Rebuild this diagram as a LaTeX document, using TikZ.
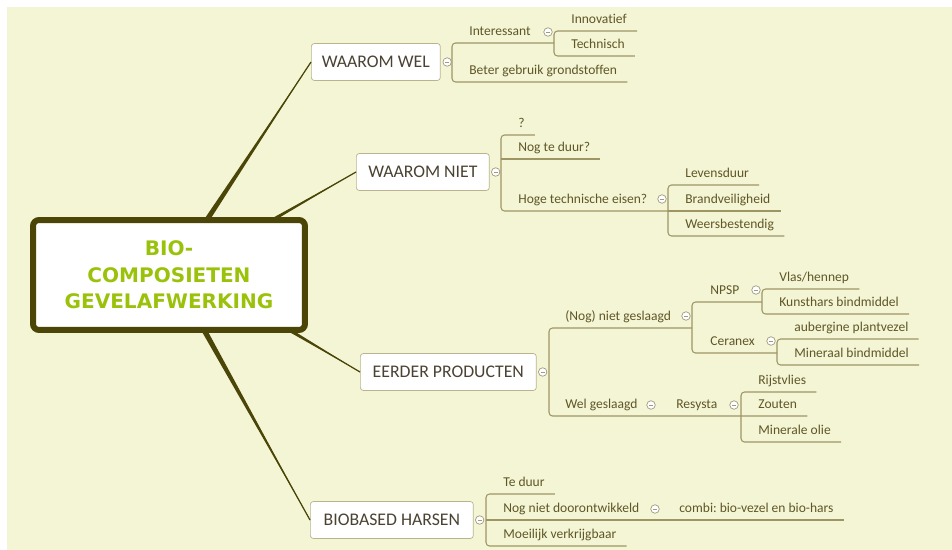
\documentclass[tikz,border=0pt]{standalone}
\usepackage{fontspec}
\setmainfont{Carlito}[Ligatures=NoCommon]
\newfontfamily\titlefont{DejaVu Sans}
\usetikzlibrary{calc}
\frenchspacing

\definecolor{bgc}{HTML}{F3F5D4}
\definecolor{trunkc}{HTML}{4B4608}
\definecolor{titlec}{HTML}{9BC20A}
\definecolor{boxc}{HTML}{B9B48E}
\definecolor{branchc}{HTML}{4A4232}
\definecolor{leafc}{HTML}{5F5628}
\definecolor{treec}{HTML}{9D9564}
\definecolor{knobc}{HTML}{9F9A80}

\tikzset{
	root/.style={draw=trunkc, line width=0.12cm, fill=white, rounded corners=0.12cm, text=titlec, font=\titlefont\bfseries\fontsize{11.4}{15}\selectfont, align=center, minimum width=5.44cm, minimum height=2.2cm},
	branch/.style={draw=boxc, fill=white, rounded corners=0.06cm, text=branchc, font=\fontsize{10.1}{12}\selectfont, minimum height=0.74cm, inner xsep=0cm, anchor=west},
	leaf/.style={anchor=south west, inner xsep=0.2cm, inner ysep=0pt, text depth=0.15cm, text=leafc, font=\fontsize{7.7}{9}\selectfont},
	knob/.style={circle, draw=knobc, fill=white, inner sep=0pt, minimum size=0.17cm, line width=0.4pt, path picture={\draw[knobc, line width=0.3pt] ([xshift=-1.2pt]path picture bounding box.center) -- ([xshift=1.2pt]path picture bounding box.center);}},
	tree/.style={draw=treec, line width=0.6pt, rounded corners=2pt},
	trunk/.style={fill=trunkc}
}

\begin{document}
\begin{tikzpicture}[x=0.02cm, y=-0.02cm]
			\useasboundingbox (0,0) rectangle (952,550);
			\fill[bgc] (7,7) rectangle (952,550);

			\node[root] (root) at (169,275) {BIO-\\COMPOSIETEN\\GEVELAFWERKING};
			\node[branch, minimum width=2.58cm] (wel) at (311,62) {WAAROM WEL};
			\node[branch, minimum width=2.66cm] (niet) at (356,172) {WAAROM NIET};
			\node[branch, minimum width=3.52cm] (eerder) at (360,372) {EERDER PRODUCTEN};
			\node[branch, minimum width=3.26cm] (harsen) at (310,520) {BIOBASED HARSEN};

			\coordinate (r1) at ($(root.north west)!0.643!(root.north east)$);
			\coordinate (r2) at ($(root.north west)!0.89!(root.north east)$);
			\coordinate (r3) at ($(root.south west)!0.95!(root.south east)$);
			\coordinate (r4) at ($(root.south west)!0.632!(root.south east)$);
			\fill[trunk] ($(r1)+(-3,0)$) -- (wel.west) -- ($(r1)+(3,0)$) -- cycle;
			\fill[trunk] ($(r2)+(-3,0)$) -- (niet.west) -- ($(r2)+(3,0)$) -- cycle;
			\fill[trunk] ($(r3)+(-3,0)$) -- (eerder.west) -- ($(r3)+(3,0)$) -- cycle;
			\fill[trunk] ($(r4)+(-3,0)$) -- (harsen.west) -- ($(r4)+(3,0)$) -- cycle;
			\draw[trunkc, line width=0.7pt] (r1) -- (wel.west);
			\draw[trunkc, line width=0.7pt] (r2) -- (niet.west);
			\draw[trunkc, line width=0.7pt] (r3) -- (eerder.west);
			\draw[trunkc, line width=0.7pt] (r4) -- (harsen.west);

			\coordinate (bwel) at (452,62);
			\coordinate (bint) at (554,32);
			\node[leaf] (int) at (459,43) {Interessant};
			\node[leaf] (inn) at (561,31) {Innovatief};
			\node[leaf] (tec) at (561,56) {Technisch};
			\node[leaf] (bet) at (459,82) {Beter gebruik grondstoffen};
			\draw[tree] (bint |- int.south) -- (bwel |- int.south) -- (bwel |- bet.south) -- (bet.south east);
			\draw[tree] (inn.south east) -- (bint |- inn.south) -- (bint |- tec.south) -- (tec.south east);

			\coordinate (bniet) at (501,172);
			\coordinate (bhoge) at (668,199);
			\node[leaf] (q) at (508,135) {?};
			\node[leaf] (duur) at (508,159) {Nog te duur?};
			\node[leaf] (hoge) at (508,211) {Hoge technische eisen?};
			\node[leaf] (lev) at (675,185) {Levensduur};
			\node[leaf] (brand) at (675,211) {Brandveiligheid};
			\node[leaf] (weer) at (675,236) {Weersbestendig};
			\draw[tree] (q.south east) -- (bniet |- q.south) -- (bniet |- hoge.south) -- (bhoge |- hoge.south);
			\draw[tree] (bniet |- duur.south) -- (duur.south east);
			\draw[tree] (lev.south east) -- (bhoge |- lev.south) -- (bhoge |- weer.south) -- (weer.south east);
			\draw[tree] (bhoge |- brand.south) -- (brand.south east);

			\coordinate (beer) at (549,372);
			\coordinate (bnog) at (692,316);
			\coordinate (bnpsp) at (762,290);
			\coordinate (bcer) at (777,341);
			\coordinate (bres) at (741,405);
			\node[leaf] (nog) at (555,328) {(Nog) niet geslaagd};
			\node[leaf] (npsp) at (700,302) {NPSP};
			\node[leaf] (vlas) at (769,289) {Vlas/hennep};
			\node[leaf] (kunst) at (769,314) {Kunsthars bindmiddel};
			\node[leaf] (cer) at (700,353) {Ceranex};
			\node[leaf] (aub) at (784,339) {aubergine plantvezel};
			\node[leaf] (mine) at (784,365) {Mineraal bindmiddel};
			\node[leaf] (gesl) at (555,416) {Wel geslaagd};
			\node[leaf] (res) at (666,416) {Resysta};
			\node[leaf] (rijst) at (748,392) {Rijstvlies};
			\node[leaf] (zout) at (748,416) {Zouten};
			\node[leaf] (olie) at (748,442) {Minerale olie};
			\draw[tree] (bnog |- nog.south) -- (beer |- nog.south) -- (beer |- gesl.south) -- (zout.south east);
			\draw[tree] (bnpsp |- npsp.south) -- (bnog |- npsp.south) -- (bnog |- cer.south) -- (bcer |- cer.south);
			\draw[tree] (vlas.south east) -- (bnpsp |- vlas.south) -- (bnpsp |- kunst.south) -- (kunst.south east);
			\draw[tree] (aub.south east) -- (bcer |- aub.south) -- (bcer |- mine.south) -- (mine.south east);
			\draw[tree] (rijst.south east) -- (bres |- rijst.south) -- (bres |- olie.south) -- (olie.south east);

			\coordinate (bbio) at (486,520);
			\node[leaf] (teduur) at (493,494) {Te duur};
			\node[leaf] (nond) at (493,520) {Nog niet doorontwikkeld};
			\node[leaf] (combi) at (669,520) {combi: bio-vezel en bio-hars};
			\node[leaf] (moei) at (493,546) {Moeilijk verkrijgbaar};
			\draw[tree] (teduur.south east) -- (bbio |- teduur.south) -- (bbio |- moei.south) -- (moei.south east);
			\draw[tree] (bbio |- nond.south) -- (combi.south east);

			\node[knob] (kwel) at ([xshift=0.13cm]wel.east) {};
			\node[knob] (kniet) at ([xshift=0.12cm]niet.east) {};
			\node[knob] (keerder) at ([xshift=0.12cm]eerder.east) {};
			\node[knob] (kharsen) at ([xshift=0.12cm]harsen.east) {};
			\node[knob] (kint) at (548,32) {};
			\node[knob] (khoge) at (662,199) {};
			\node[knob] (knog) at (686,316) {};
			\node[knob] (knpsp) at (756,290) {};
			\node[knob] (kcer) at (771,341) {};
			\node[knob] (kgesl) at (651,405) {};
			\node[knob] (kres) at (734,405) {};
			\node[knob] (knond) at (655,509) {};
		\end{tikzpicture}
\end{document}
